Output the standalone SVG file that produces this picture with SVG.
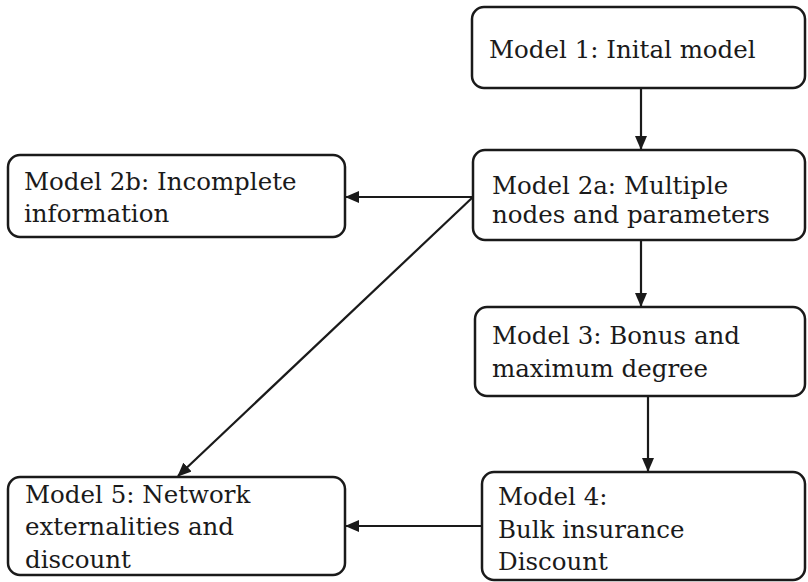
<svg xmlns="http://www.w3.org/2000/svg" width="808" height="582" viewBox="0 0 808 582">
<defs>
<style>
.box{fill:#fff;stroke:#1a1a1a;stroke-width:2.5}
.t{font-family:"DejaVu Serif","Liberation Serif",serif;font-size:24.5px;fill:#1a1a1a}
.c{stroke:#1a1a1a;stroke-width:2.2;fill:none}
</style>
<marker id="ah" markerWidth="14" markerHeight="12" refX="13" refY="6" orient="auto" markerUnits="userSpaceOnUse">
<path d="M0,0 L14,6 L0,12 Z" fill="#1a1a1a"/>
</marker>
</defs>
<rect width="808" height="582" fill="#fff"/>
<g id="connectors">
<line class="c" x1="641" y1="88" x2="641" y2="149" marker-end="url(#ah)"/>
<line class="c" x1="473" y1="197" x2="346" y2="197" marker-end="url(#ah)"/>
<line class="c" x1="473" y1="197" x2="178" y2="476" marker-end="url(#ah)"/>
<line class="c" x1="641" y1="240" x2="641" y2="306" marker-end="url(#ah)"/>
<line class="c" x1="648" y1="396" x2="648" y2="471" marker-end="url(#ah)"/>
<line class="c" x1="482" y1="526" x2="346" y2="526" marker-end="url(#ah)"/>
</g>
<g id="model1">
<rect class="box" x="472" y="7" width="333" height="81" rx="12"/>
<text class="t" x="489" y="58">Model 1: Inital model</text>
</g>
<g id="model2a">
<rect class="box" x="473" y="150" width="332" height="90" rx="12"/>
<text class="t" x="492" y="194">Model 2a: Multiple</text>
<text class="t" x="492" y="223">nodes and parameters</text>
</g>
<g id="model2b">
<rect class="box" x="8" y="155" width="337" height="82" rx="12"/>
<text class="t" x="24" y="190">Model 2b: Incomplete</text>
<text class="t" x="24" y="222">information</text>
</g>
<g id="model3">
<rect class="box" x="475" y="307" width="330" height="89" rx="12"/>
<text class="t" x="492" y="344">Model 3: Bonus and</text>
<text class="t" x="492" y="377">maximum degree</text>
</g>
<g id="model4">
<rect class="box" x="482" y="472" width="323" height="108" rx="12"/>
<text class="t" x="498" y="505">Model 4:</text>
<text class="t" x="498" y="538">Bulk insurance</text>
<text class="t" x="498" y="570">Discount</text>
</g>
<g id="model5">
<rect class="box" x="8" y="477" width="337" height="98" rx="12"/>
<text class="t" x="25" y="503">Model 5: Network</text>
<text class="t" x="25" y="535">externalities and</text>
<text class="t" x="25" y="568">discount</text>
</g>
</svg>
